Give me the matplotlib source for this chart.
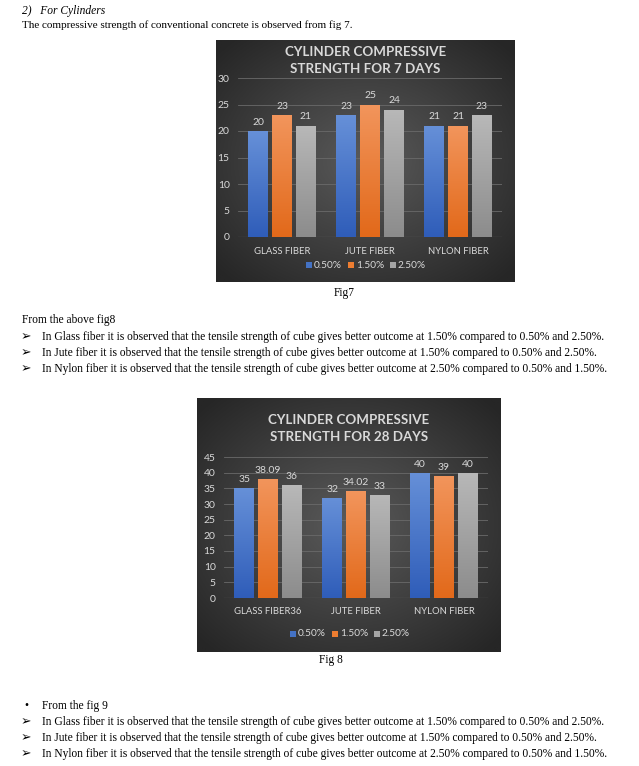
import numpy as np
import matplotlib
matplotlib.use('Agg')
import matplotlib.pyplot as plt
from matplotlib.patches import Rectangle

W, H = 639, 766

categories7 = ['GLASS FIBER', 'JUTE FIBER', 'NYLON FIBER']
categories28 = ['GLASS FIBER36', 'JUTE FIBER', 'NYLON FIBER']
series = ['0.50%', '1.50%', '2.50%']
days7 = [[20, 23, 21], [23, 25, 24], [21, 21, 23]]
labels7 = [['20', '23', '21'], ['23', '25', '24'], ['21', '21', '23']]
days28 = [[35, 38.09, 36], [32, 34.02, 33], [40, 39, 40]]
labels28 = [['35', '38.09', '36'], ['32', '34.02', '33'], ['40', '39', '40']]

# top/bottom colours of the bar gradients
bar_cols = [('#6690d8', '#2f5db9'), ('#f2955c', '#e2691a'), ('#b8b8b8', '#8c8c8c')]
legend_cols = ['#4472c4', '#ed7d31', '#a5a5a5']
txt_col = '#d9d9d9'
cfont = 'Lato'
tfont = ['Liberation Serif', 'DejaVu Sans']

fig = plt.figure(figsize=(W / 100, H / 100), dpi=100)
fig.patch.set_facecolor('white')


def box(x0, y0, x1, y1):
    return [x0 / W, 1 - y1 / H, (x1 - x0) / W, (y1 - y0) / H]


def ftext(x, y, s, **kw):
    kw.setdefault('fontsize', 8.3)
    kw.setdefault('family', tfont)
    fig.text(x / W, 1 - y / H, s, va='center', **kw)


def hexrgb(c):
    return np.array([int(c[i:i + 2], 16) / 255 for i in (1, 3, 5)])


def panel(x0, y0, x1, y1):
    ax = fig.add_axes(box(x0, y0, x1, y1))
    yy, xx = np.mgrid[-1:1:200j, -1:1:200j]
    r = np.clip(np.sqrt(xx ** 2 + yy ** 2) / 1.35, 0, 1)
    c0 = hexrgb('#5a5a5a')
    c1 = hexrgb('#262626')
    img = c0[None, None, :] * (1 - r[..., None]) + c1[None, None, :] * r[..., None]
    ax.imshow(img, extent=[0, 1, 0, 1], aspect='auto')
    ax.set_axis_off()
    return ax


def chart(pbox, abox, cats, data, labels, ymax, title, title_y, cat_y, leg_y, leg_x):
    panel(*pbox)
    ax = fig.add_axes(box(*abox))
    ax.set_facecolor('none')
    ax.set_xlim(0, 3)
    ax.set_ylim(0, ymax)
    ax.set_yticks(np.arange(0, ymax + 1, 5))
    for sp in ax.spines.values():
        sp.set_visible(False)
    ax.grid(axis='y', color='#6a6a6a', lw=0.6)
    ax.axhline(0, color='#8c8c8c', lw=0.8)
    ax.set_axisbelow(True)
    ax.tick_params(axis='y', length=0, colors=txt_col, labelsize=7.5, pad=6)
    ax.tick_params(axis='x', length=0)
    ax.set_xticks([])
    for lab in ax.get_yticklabels():
        lab.set_family(cfont)
    bw = 0.225
    step = 0.272
    for i, cat in enumerate(cats):
        for j in range(3):
            v = data[i][j]
            xc = i + 0.5 + (j - 1) * step
            rect = Rectangle((xc - bw / 2, 0), bw, v, facecolor='none', edgecolor='none')
            ax.add_patch(rect)
            top, bot = hexrgb(bar_cols[j][0]), hexrgb(bar_cols[j][1])
            t = np.linspace(0, 1, 100)[:, None, None]
            grad = top[None, None, :] * (1 - t) + bot[None, None, :] * t
            im = ax.imshow(grad, extent=[xc - bw / 2, xc + bw / 2, 0, v], aspect='auto', zorder=2)
            im.set_clip_path(rect)
            ax.text(xc, v + ymax * 0.028, labels[i][j], ha='center', va='bottom',
                    color=txt_col, fontsize=7.5, family=cfont)
        fig.text((abox[0] + (i + 0.5) / 3 * (abox[2] - abox[0])) / W, 1 - cat_y / H, cat,
                 ha='center', va='center', color=txt_col, fontsize=6.8, family=cfont)
    ax.set_xlim(0, 3)
    ax.set_ylim(0, ymax)
    cx = (pbox[0] + pbox[2]) / 2
    fig.text(cx / W, 1 - title_y / H, title, ha='center', va='center', color=txt_col,
             fontsize=9.6, fontweight='bold', family=cfont, linespacing=1.55)
    x = leg_x
    for j, s in enumerate(series):
        fig.patches.append(Rectangle(((x) / W, 1 - (leg_y + 3) / H), 6 / W, 6 / H,
                                     transform=fig.transFigure, facecolor=legend_cols[j],
                                     edgecolor='none'))
        fig.text((x + 8) / W, 1 - leg_y / H, s, ha='left', va='center', color=txt_col,
                 fontsize=7.3, family=cfont)
        x += 42


# page text
ftext(22, 11, '2)   For Cylinders', style='italic')
ftext(22, 25, 'The compressive strength of conventional concrete is observed from fig 7.', fontsize=8.0)

chart((216, 40, 515, 282), (238, 78, 502, 237), categories7, days7, labels7, 30,
      'CYLINDER COMPRESSIVE\nSTRENGTH FOR 7 DAYS', 60.5, 251, 265, 306)

ftext(344, 293, 'Fig7', ha='center')
ftext(22, 320, 'From the above fig8')
bul8 = ['In Glass fiber it is observed that the tensile strength of cube gives better outcome at 1.50% compared to 0.50% and 2.50%.',
        'In Jute fiber it is observed that the tensile strength of cube gives better outcome at 1.50% compared to 0.50% and 2.50%.',
        'In Nylon fiber it is observed that the tensile strength of cube gives better outcome at 2.50% compared to 0.50% and 1.50%.']
for k, s in enumerate(bul8):
    ftext(21, 337 + 16 * k, '\u27a2', fontsize=9)
    ftext(42, 337 + 16 * k, s)

chart((197, 398, 501, 652), (224, 457, 488, 598), categories28, days28, labels28, 45,
      'CYLINDER COMPRESSIVE\nSTRENGTH FOR 28 DAYS', 428.5, 612, 634, 290)

ftext(331, 660, 'Fig 8', ha='center')
ftext(24, 706, '\u2022')
ftext(42, 706, 'From the fig 9')
for k, s in enumerate(bul8):
    ftext(21, 722 + 16 * k, '\u27a2', fontsize=9)
    ftext(42, 722 + 16 * k, s)

fig.savefig('out.png', dpi=100)
